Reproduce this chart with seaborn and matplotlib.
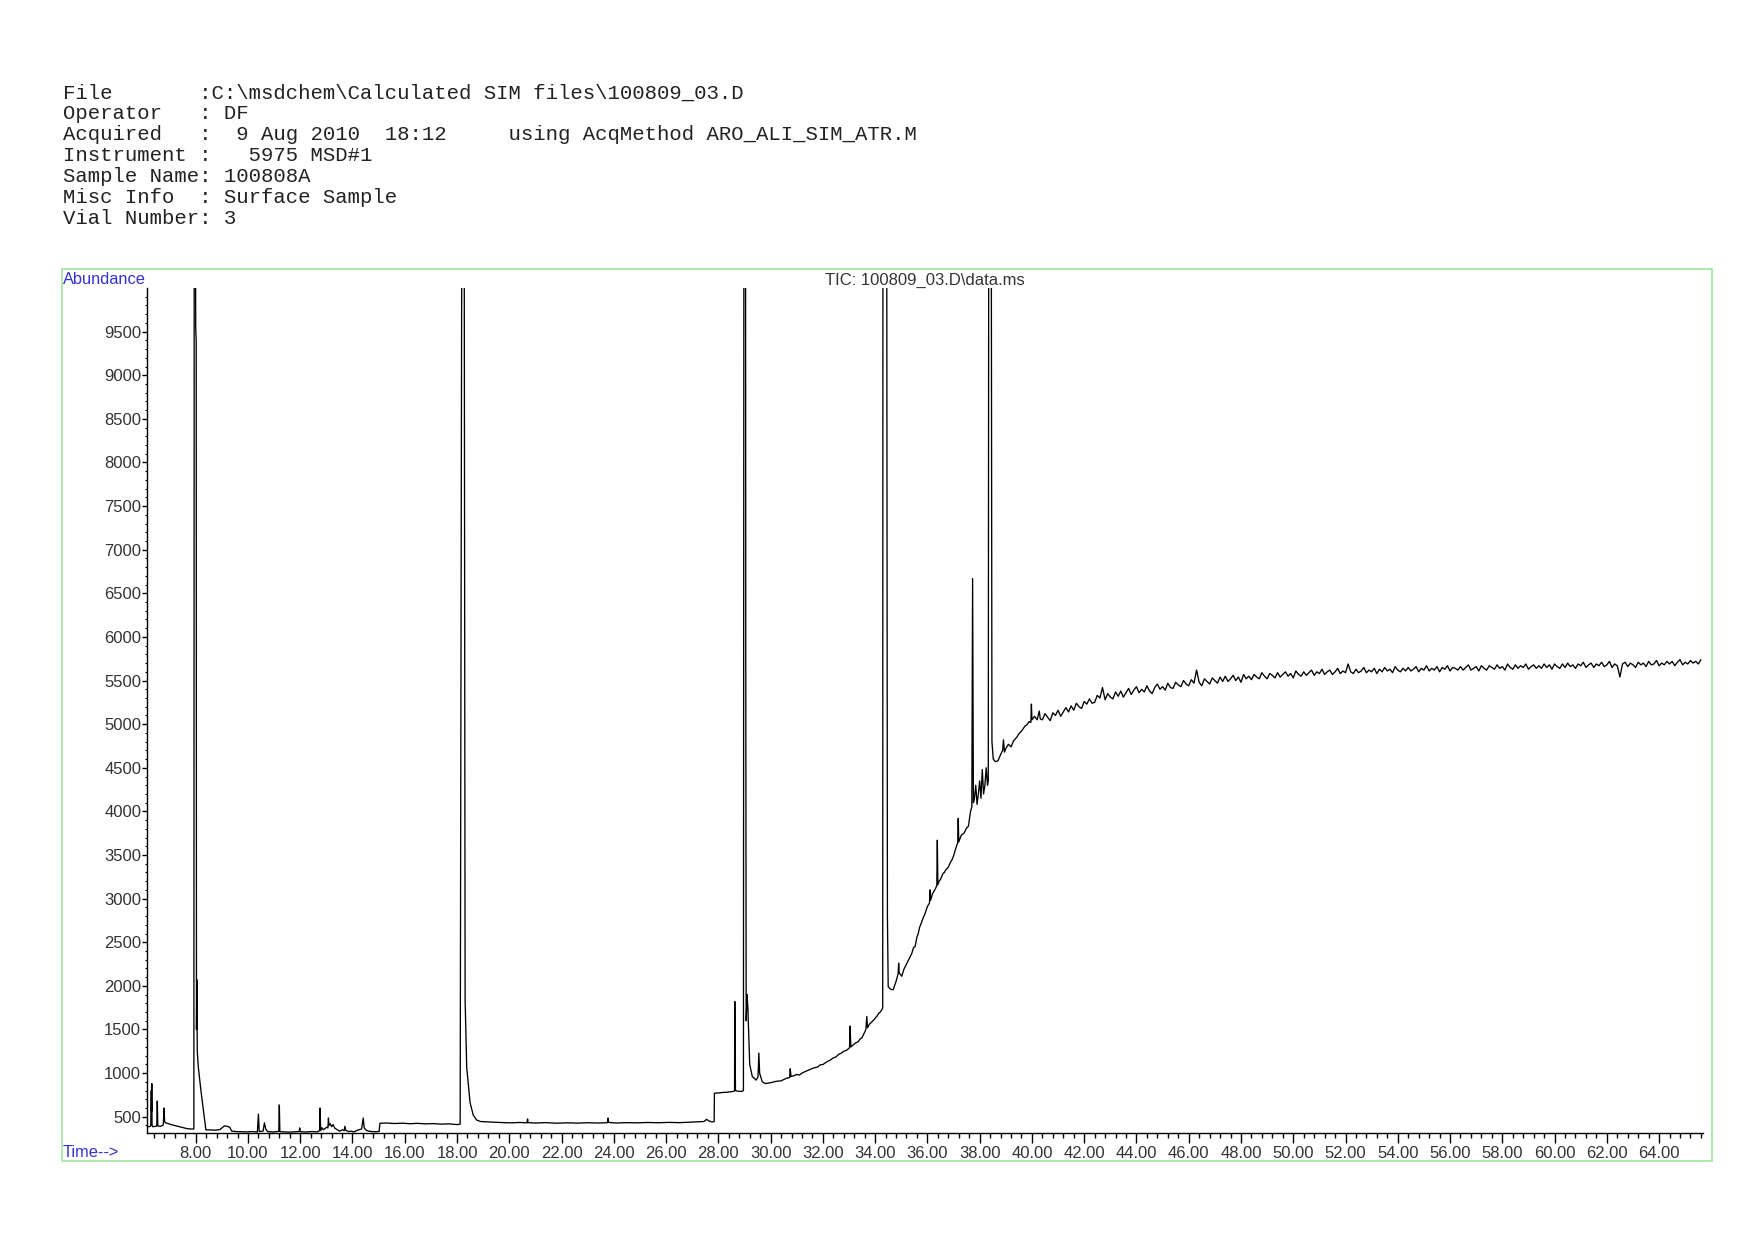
import numpy as np
import pandas as pd
import matplotlib
matplotlib.use("Agg")
import matplotlib.pyplot as plt
import seaborn as sns
from matplotlib.patches import Rectangle
from matplotlib.ticker import FixedLocator

# ---------------- data ----------------
header_lines = [
    "File       :C:\\msdchem\\Calculated SIM files\\100809_03.D",
    "Operator   : DF",
    "Acquired   :  9 Aug 2010  18:12     using AcqMethod ARO_ALI_SIM_ATR.M",
    "Instrument :   5975 MSD#1",
    "Sample Name: 100808A",
    "Misc Info  : Surface Sample",
    "Vial Number: 3",
]
title_text = "TIC: 100809_03.D\\data.ms"

# (time [min], abundance)
seg_early = [
    (6.15, 390), (6.22, 385), (6.28, 395), (6.30, 800), (6.31, 560), (6.32, 880),
    (6.33, 400), (6.36, 385), (6.45, 390), (6.51, 395), (6.53, 680), (6.55, 395),
    (6.65, 390), (6.76, 405), (6.79, 600), (6.81, 450), (6.84, 430), (6.92, 425),
    (7.05, 410), (7.25, 395), (7.45, 380), (7.65, 365), (7.85, 358), (7.93, 360),
    (7.945, 12000), (7.985, 12000), (8.00, 9550), (8.02, 9400), (8.03, 1500),
    (8.045, 2070), (8.06, 1250), (8.10, 1070), (8.20, 800), (8.30, 560), (8.39, 350),
    (8.55, 348), (8.75, 346), (8.92, 352), (9.02, 375), (9.10, 395), (9.20, 390),
    (9.30, 380), (9.38, 335), (9.55, 330), (9.75, 328), (9.95, 326), (10.15, 330),
    (10.36, 325), (10.40, 530), (10.43, 330), (10.58, 335), (10.63, 430), (10.68, 360),
    (10.75, 330), (10.95, 325), (11.10, 330), (11.18, 332), (11.20, 635), (11.22, 330),
    (11.40, 326), (11.60, 324), (11.80, 328), (11.96, 330), (11.98, 372), (12.00, 328),
    (12.20, 325), (12.45, 330), (12.65, 326), (12.74, 340), (12.76, 600), (12.78, 340),
    (12.83, 375), (12.88, 350), (12.95, 365), (13.02, 380), (13.06, 372), (13.08, 485),
    (13.10, 400), (13.15, 420), (13.20, 385), (13.26, 410), (13.32, 370), (13.40, 355),
    (13.50, 335), (13.62, 350), (13.68, 340), (13.71, 390), (13.74, 345), (13.85, 330),
    (13.95, 335), (14.05, 325), (14.15, 340), (14.25, 350), (14.35, 360), (14.41, 485),
    (14.45, 372), (14.52, 345), (14.62, 335), (14.75, 330), (14.90, 328), (15.02, 332),
]

seg_middle = [
    (15.05, 425), (15.3, 428), (15.6, 422), (15.9, 426), (16.2, 420), (16.5, 424),
    (16.8, 418), (17.1, 421), (17.4, 415), (17.7, 418), (18.0, 410), (18.12, 415),
    (18.19, 12000), (18.27, 12000), (18.31, 1840), (18.37, 1070), (18.50, 660),
    (18.62, 520), (18.75, 462), (18.9, 445), (19.2, 440), (19.5, 436), (19.8, 432),
    (20.1, 430), (20.4, 434), (20.68, 430), (20.70, 475), (20.72, 432), (21.0, 428),
    (21.4, 432), (21.8, 426), (22.2, 430), (22.6, 427), (23.0, 431), (23.4, 428),
    (23.76, 432), (23.78, 485), (23.80, 434), (24.1, 428), (24.5, 432), (24.9, 430),
    (25.3, 434), (25.7, 431), (26.1, 435), (26.5, 432), (26.9, 437), (27.2, 440),
    (27.45, 445), (27.55, 470), (27.62, 455), (27.75, 440), (27.84, 445),
]

seg_rise = [
    (27.85, 770), (28.0, 772), (28.15, 778), (28.3, 780), (28.45, 785), (28.57, 790),
    (28.62, 795), (28.63, 1820), (28.655, 800), (28.75, 792), (28.9, 790), (28.96, 800),
    (28.98, 12000), (29.04, 12000), (29.05, 5600), (29.065, 1600), (29.10, 1900),
    (29.13, 1750), (29.20, 1100), (29.30, 960), (29.45, 920), (29.52, 960), (29.55, 1230),
    (29.58, 1000), (29.68, 900), (29.80, 880), (30.0, 890), (30.2, 905), (30.4, 912),
    (30.6, 940), (30.73, 950), (30.75, 1050), (30.78, 962), (30.9, 970), (31.0, 985),
    (31.1, 978), (31.2, 1000), (31.3, 1015), (31.4, 1028), (31.5, 1040), (31.64, 1058),
    (31.8, 1070), (31.9, 1095), (32.0, 1098), (32.15, 1130), (32.28, 1148), (32.4, 1175),
    (32.5, 1185), (32.6, 1215), (32.7, 1228), (32.8, 1250), (32.91, 1262), (33.02, 1290),
    (33.04, 1540), (33.07, 1300), (33.15, 1320), (33.25, 1345), (33.35, 1360),
    (33.42, 1390), (33.5, 1405), (33.55, 1440), (33.62, 1480), (33.65, 1510),
    (33.68, 1650), (33.71, 1520), (33.78, 1560), (33.85, 1580), (33.95, 1610),
    (34.06, 1650), (34.15, 1690), (34.2, 1700), (34.29, 1745),
    (34.30, 12000), (34.44, 12000), (34.47, 2800), (34.5, 1990), (34.6, 1960),
    (34.69, 1955), (34.8, 2050), (34.88, 2140), (34.9, 2260), (34.92, 2150),
    (35.02, 2110), (35.1, 2190), (35.2, 2250), (35.3, 2310), (35.4, 2370), (35.47, 2440),
    (35.53, 2450), (35.6, 2560), (35.65, 2600), (35.7, 2670), (35.78, 2730), (35.85, 2790),
    (35.9, 2820), (36.0, 2910), (36.08, 2950), (36.10, 3100), (36.12, 2980), (36.2, 3060),
    (36.3, 3110), (36.36, 3150), (36.38, 3670), (36.40, 3160), (36.45, 3200), (36.5, 3220),
    (36.6, 3290), (36.65, 3300), (36.7, 3330), (36.8, 3360), (36.87, 3410), (36.95, 3450),
    (37.0, 3490), (37.1, 3590), (37.16, 3640), (37.18, 3920), (37.2, 3650), (37.3, 3730),
    (37.4, 3750), (37.5, 3810), (37.57, 3830), (37.65, 4000), (37.70, 4050), (37.73, 6670),
    (37.76, 4100), (37.8, 4150), (37.85, 4300), (37.9, 4080), (37.95, 4200), (38.0, 4350),
    (38.05, 4150), (38.1, 4480), (38.15, 4200), (38.2, 4300), (38.25, 4500), (38.3, 4300),
    (38.33, 4350), (38.35, 12000), (38.44, 12000), (38.47, 4800), (38.52, 4600),
    (38.6, 4570), (38.7, 4580), (38.8, 4650), (38.88, 4700), (38.91, 4820),
    (38.95, 4680), (39.0, 4720), (39.1, 4770), (39.2, 4740), (39.3, 4810),
    (39.42, 4850), (39.5, 4890), (39.6, 4920), (39.74, 4980), (39.8, 4990),
    (39.9, 5030), (39.96, 5020), (39.98, 5230), (40.0, 5050), (40.1, 5090),
    (40.2, 5050), (40.28, 5150), (40.32, 5060),
]

# plateau, one reading every 0.1 min from 40.4 to 65.6 min
plateau_start, plateau_end = 40.4, 65.6
plateau_abundance = [
    5050, 5120, 5080, 5040, 5130, 5100, 5160, 5090, 5140, 5190,
    5140, 5210, 5160, 5240, 5200, 5180, 5260, 5230, 5290, 5240,
    5250, 5330, 5300, 5420, 5280, 5350, 5310, 5290, 5370, 5320,
    5380, 5310, 5360, 5410, 5340, 5390, 5430, 5360, 5400, 5370,
    5440, 5380, 5350, 5420, 5460, 5400, 5430, 5390, 5470, 5420,
    5410, 5480, 5450, 5430, 5500, 5460, 5440, 5510, 5470, 5620,
    5480, 5440, 5520, 5490, 5460, 5530, 5500, 5470, 5540, 5490,
    5550, 5490, 5520, 5560, 5500, 5540, 5480, 5570, 5520, 5550,
    5510, 5570, 5540, 5520, 5590, 5550, 5520, 5580, 5560, 5530,
    5590, 5540, 5570, 5600, 5550, 5580, 5530, 5610, 5570, 5550,
    5600, 5560, 5590, 5620, 5560, 5600, 5580, 5630, 5570, 5600,
    5620, 5570, 5600, 5640, 5580, 5610, 5590, 5690, 5600, 5580,
    5630, 5590, 5610, 5650, 5590, 5620, 5600, 5640, 5580, 5630,
    5600, 5650, 5610, 5630, 5590, 5660, 5620, 5600, 5640, 5610,
    5650, 5610, 5630, 5660, 5600, 5640, 5620, 5670, 5610, 5640,
    5620, 5660, 5600, 5650, 5630, 5670, 5610, 5650, 5640, 5620,
    5660, 5620, 5650, 5680, 5620, 5640, 5660, 5610, 5670, 5640,
    5620, 5670, 5650, 5630, 5680, 5640, 5660, 5620, 5690, 5650,
    5630, 5680, 5640, 5670, 5650, 5690, 5630, 5660, 5680, 5640,
    5670, 5640, 5690, 5650, 5680, 5630, 5690, 5660, 5640, 5690,
    5650, 5700, 5660, 5680, 5640, 5690, 5670, 5710, 5650, 5680,
    5700, 5650, 5690, 5670, 5710, 5660, 5680, 5720, 5650, 5690,
    5670, 5540, 5690, 5710, 5660, 5700, 5680, 5650, 5710, 5680,
    5700, 5660, 5720, 5680, 5690, 5730, 5670, 5700, 5680, 5720,
    5690, 5720, 5670, 5710, 5740, 5680, 5710, 5690, 5730, 5700,
    5720, 5690, 5740,
]

y_major_ticks = [500, 1000, 1500, 2000, 2500, 3000, 3500, 4000, 4500, 5000,
                 5500, 6000, 6500, 7000, 7500, 8000, 8500, 9000, 9500]
x_major_ticks = [8, 10, 12, 14, 16, 18, 20, 22, 24, 26, 28, 30, 32, 34, 36,
                 38, 40, 42, 44, 46, 48, 50, 52, 54, 56, 58, 60, 62, 64]
x_tick_labels = [f"{v:.2f}" for v in x_major_ticks]
y_tick_labels = [str(v) for v in y_major_ticks]

# ---------------- build table ----------------
pts = seg_early + seg_middle + seg_rise
t = [p[0] for p in pts]
a = [p[1] for p in pts]
t += list(np.linspace(plateau_start, plateau_end, len(plateau_abundance)))
a += plateau_abundance
df = pd.DataFrame({"time": t, "abundance": a})

# ---------------- figure ----------------
sns.set_style("white")
plt.rcParams["font.family"] = ["Liberation Sans", "DejaVu Sans"]

W, H = 1754, 1240
fig = plt.figure(figsize=(W / 100, H / 100), dpi=100)

def fx(px):
    return px / W

def fy(py):
    return 1 - py / H

ax_l, ax_r, ax_t, ax_b = 147.3, 1703.0, 288.0, 1133.3
ax = fig.add_axes([fx(ax_l), fy(ax_b), fx(ax_r - ax_l), (ax_b - ax_t) / H])

sns.lineplot(data=df, x="time", y="abundance", ax=ax, estimator=None,
             sort=False, color="black", linewidth=0.95)

ax.set_xlim(6.148, 65.68)
ax.set_ylim(310, 10000)
ax.set_xlabel("")
ax.set_ylabel("")

ax.xaxis.set_major_locator(FixedLocator(x_major_ticks))
ax.xaxis.set_minor_locator(FixedLocator([round(6.4 + 0.4 * i, 2) for i in range(149)
                                         if 6.4 + 0.4 * i < 65.68]))
ax.yaxis.set_major_locator(FixedLocator(y_major_ticks))
ax.yaxis.set_minor_locator(FixedLocator(list(range(400, 10000, 100))))
ax.set_xticklabels(x_tick_labels)
ax.set_yticklabels(y_tick_labels)

for s in ["top", "right"]:
    ax.spines[s].set_visible(False)
for s in ["left", "bottom"]:
    ax.spines[s].set_color("black")
    ax.spines[s].set_linewidth(1.0)

ax.tick_params(axis="x", which="major", bottom=True, length=7, width=1.0,
               color="black", labelsize=12, labelcolor="#333333", pad=2.5)
ax.tick_params(axis="x", which="minor", bottom=True, length=3.8, width=1.0,
               color="black")
ax.tick_params(axis="y", which="major", left=True, length=3.6, width=1.0,
               color="black", labelsize=12, labelcolor="#333333", pad=0.8)
ax.tick_params(axis="y", which="minor", left=True, length=1.8, width=0.8,
               color="black")
ax.set_facecolor("white")
ax.grid(False)

# green frame
frame = Rectangle((fx(62.3), fy(1160.7)), fx(1712.3 - 62.3), (1160.7 - 269.3) / H,
                  transform=fig.transFigure, fill=False, edgecolor="#98e298",
                  linewidth=1.1, zorder=0)
fig.patches.append(frame)

blue = "#3232d2"
fig.text(fx(63.0), fy(284.0), "Abundance", color=blue, fontsize=11.8,
         ha="left", va="baseline")
fig.text(fx(62.5), fy(1157.0), "Time-->", color=blue, fontsize=11.8,
         ha="left", va="baseline")
fig.text(fx(925.0), fy(285.0), title_text, color="#333333", fontsize=12,
         ha="center", va="baseline")

# header block
for i, line in enumerate(header_lines):
    fig.text(fx(63.0), fy(98.5 + 20.9 * i), line, color="#222222",
             family=["Liberation Mono", "DejaVu Sans Mono"], fontsize=14.9,
             ha="left", va="baseline")

fig.savefig("out.png", dpi=100, facecolor="white")
